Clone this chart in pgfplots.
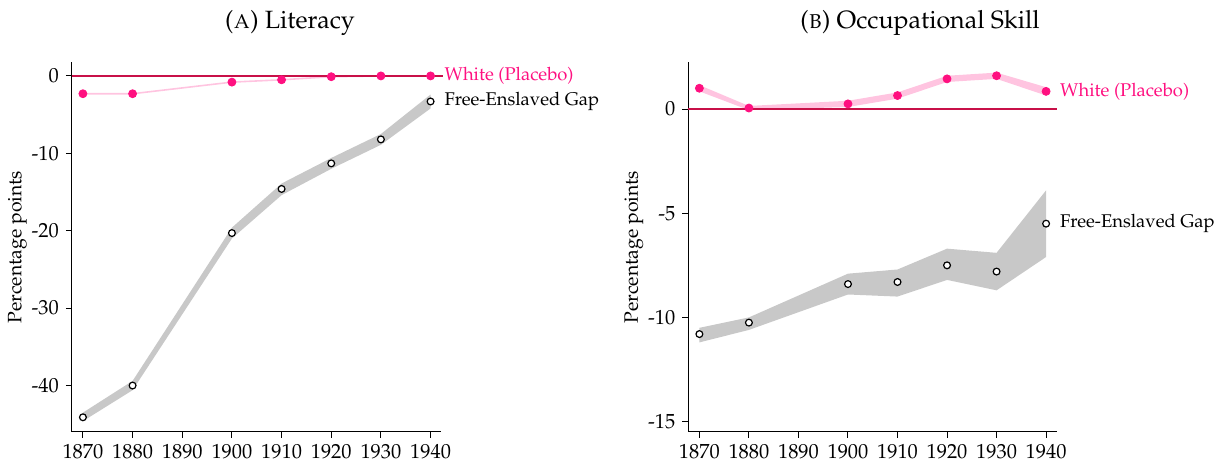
\documentclass[border=0pt]{standalone}
\usepackage[T1]{fontenc}
\usepackage{mathpazo}
\usepackage{pgfplots}
\pgfplotsset{compat=1.18}
\definecolor{wpink}{RGB}{255,16,128}
\definecolor{bandpink}{RGB}{255,196,224}
\definecolor{zeroline}{RGB}{200,16,72}
\definecolor{bandgray}{RGB}{200,200,200}
\pgfplotsset{
  panel/.style={
    scale only axis, anchor=south west, clip=false,
    axis x line*=bottom, axis y line*=left,
    xmin=1867.7, xmax=1942.2,
    xtick={1870,1880,...,1940},
    tick align=outside, major tick length=2.8pt,
    tick style={black, line width=0.5pt},
    axis line style={line width=0.5pt},
    font=\fontsize{9.2}{11}\selectfont,
    tick label style={font=\fontsize{10.2}{12}\selectfont},
    /pgf/number format/1000 sep={},
    /pgf/number format/assume math mode=true,
    ylabel={Percentage points},
    every axis y label/.style={at={([xshift=-27pt]axis description cs:0,0.5)}, rotate=90,
      anchor=center, font=\fontsize{9.7}{11}\selectfont},
  },
}
\begin{document}
\begin{tikzpicture}
% (A) Literacy
\begin{axis}[panel, at={(35.75pt,16pt)}, width=185pt, height=185pt,
  ymin=-46.0, ymax=1.8,
  ytick={0,-10,-20,-30,-40}, yticklabels={0,-10,-20,-30,-40}]
% gap ci band
\addplot[fill=bandgray, draw=none] coordinates {
  (1870,-43.5) (1880,-39.4) (1900,-19.6) (1910,-13.9) (1920,-10.6) (1930,-7.5) (1940,-2.4)
  (1940,-4.2) (1930,-8.9) (1920,-12.0) (1910,-15.4) (1900,-21.0) (1880,-40.6) (1870,-44.6)} -- cycle;
% white placebo
\addplot[bandpink, line width=0.8pt] coordinates {
  (1870,-2.3) (1880,-2.3) (1900,-0.8) (1910,-0.5) (1920,-0.1) (1930,0) (1940,0)};
\addplot[zeroline, line width=0.7pt] coordinates {(1867.7,0) (1942.6,0)};
\addplot[only marks, mark=*, mark size=2pt, wpink] coordinates {
  (1870,-2.3) (1880,-2.3) (1900,-0.8) (1910,-0.5) (1920,-0.1) (1930,0) (1940,0)};
% free-enslaved gap
\addplot[only marks, mark=*, mark size=1.7pt, mark options={draw=black, fill=white, line width=0.6pt}] coordinates {
  (1870,-44.1) (1880,-40.0) (1900,-20.3) (1910,-14.6) (1920,-11.3) (1930,-8.2) (1940,-3.3)};
\node[anchor=west, text=wpink, xshift=3.5pt] at (axis cs:1940,0) {White (Placebo)};
\node[anchor=west, xshift=3.5pt] at (axis cs:1940,-3.3) {Free-Enslaved Gap};
\end{axis}
% (B) Occupational skill
\begin{axis}[panel, at={(344pt,16pt)}, width=184.5pt, height=185pt,
  ymin=-15.5, ymax=2.26,
  ytick={0,-5,-10,-15}, yticklabels={0,-5,-10,-15}]
\addplot[fill=bandgray, draw=none] coordinates {
  (1870,-10.5) (1880,-10.0) (1900,-7.9) (1910,-7.7) (1920,-6.7) (1930,-6.9) (1940,-3.9)
  (1940,-7.1) (1930,-8.7) (1920,-8.2) (1910,-9.0) (1900,-8.9) (1880,-10.6) (1870,-11.2)} -- cycle;
\addplot[fill=bandpink, draw=none] coordinates {
  (1870,1.15) (1880,0.15) (1900,0.40) (1910,0.80) (1920,1.60) (1930,1.75) (1940,1.05)
  (1940,0.65) (1930,1.45) (1920,1.30) (1910,0.50) (1900,0.10) (1880,-0.05) (1870,0.85)} -- cycle;
\addplot[zeroline, line width=0.7pt] coordinates {(1867.6,0) (1942.2,0)};
\addplot[only marks, mark=*, mark size=2pt, wpink] coordinates {
  (1870,1.0) (1880,0.05) (1900,0.25) (1910,0.65) (1920,1.45) (1930,1.6) (1940,0.85)};
\addplot[only marks, mark=*, mark size=1.7pt, mark options={draw=black, fill=white, line width=0.6pt}] coordinates {
  (1870,-10.8) (1880,-10.25) (1900,-8.4) (1910,-8.3) (1920,-7.5) (1930,-7.8) (1940,-5.5)};
\node[anchor=west, text=wpink, xshift=3.5pt] at (axis cs:1940,0.85) {White (Placebo)};
\node[anchor=west, xshift=3.5pt] at (axis cs:1940,-5.5) {Free-Enslaved Gap};
\end{axis}
\node[font=\fontsize{12.5}{14}\selectfont] at (145pt,220.5pt) {(\textsc{a}) Literacy};
\node[font=\fontsize{12.5}{14}\selectfont] at (460pt,220.5pt) {(\textsc{b}) Occupational Skill};
\pgfresetboundingbox
\path (0,0) rectangle (611.5pt,232pt);
\end{tikzpicture}
\end{document}
